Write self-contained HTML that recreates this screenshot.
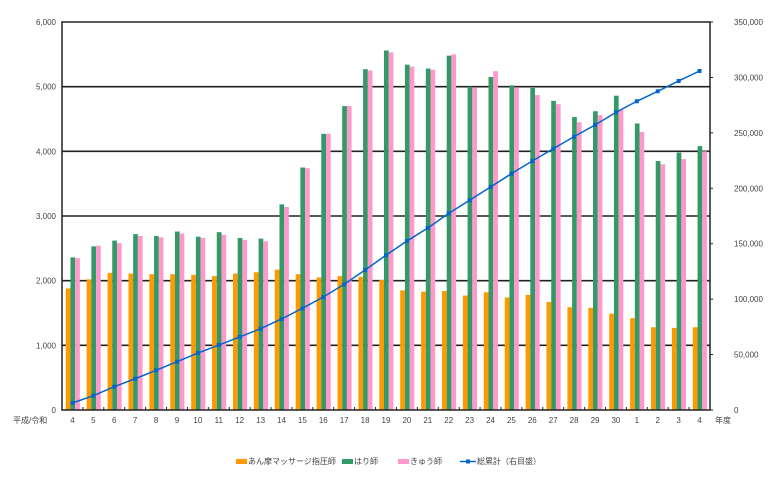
<!DOCTYPE html>
<html><head><meta charset="utf-8"><style>
body{margin:0;background:#fff;width:768px;height:476px;overflow:hidden}
svg text{font-family:"Liberation Sans","Noto Sans CJK JP",sans-serif;fill:#444}
</style></head><body>
<svg id="chart" width="768" height="476" xmlns="http://www.w3.org/2000/svg">
<g id="grid"></g>
<g id="bars"></g>
<g id="line"></g>
<g id="axes"></g>
<g id="legend" font-size="8">
 <g><rect x="236" y="459" width="11" height="5" fill="#ff9900"/><text x="248" y="464" font-size="8">あん摩マッサージ指圧師</text></g>
 <g><rect x="342" y="459" width="11" height="5" fill="#339966"/><text x="354" y="464" font-size="8">はり師</text></g>
 <g><rect x="398" y="459" width="11" height="5" fill="#ff99cc"/><text x="410" y="464" font-size="8">きゅう師</text></g>
 <g><line x1="460" y1="461.5" x2="476" y2="461.5" stroke="#0066cc" stroke-width="1.5"/><rect x="466" y="459.5" width="4" height="4" fill="#0066cc"/><text x="477" y="464" font-size="8">総累計（右目盛）</text></g>
</g>
</svg>
<script>
const categories=["4","5","6","7","8","9","10","11","12","13","14","15","16","17","18","19","20","21","22","23","24","25","26","27","28","29","30","1","2","3","4"];
const anma=[1880,2020,2120,2110,2100,2100,2090,2070,2110,2130,2170,2100,2050,2070,2060,2010,1850,1830,1840,1770,1820,1740,1780,1670,1590,1580,1490,1420,1280,1270,1280];
const hari=[2360,2530,2620,2720,2690,2760,2680,2750,2660,2650,3180,3750,4270,4700,5270,5560,5340,5280,5480,5000,5150,5020,4980,4780,4530,4620,4860,4430,3850,3980,4080];
const kyu=[2350,2540,2580,2690,2670,2730,2660,2710,2630,2610,3140,3740,4270,4700,5250,5530,5310,5260,5500,4990,5240,4990,4870,4730,4450,4560,4650,4300,3800,3880,4000];
const total=[6300,12900,21000,28200,35800,43600,51400,58600,65900,73300,82100,91700,101900,113400,126300,139600,152400,164200,177400,189200,201200,213200,224600,235700,246600,257100,268500,278500,287500,296800,305800];
const leftTicks=[0,1000,2000,3000,4000,5000,6000];
const rightTicks=[0,50000,100000,150000,200000,250000,300000,350000];
const NS="http://www.w3.org/2000/svg";
const X0=62,X1=710,Y0=410,Y1=22;
const step=(X1-X0)/categories.length;
const yL=v=>Y0-(v/6000)*(Y0-Y1);
const yR=v=>Y0-(v/350000)*(Y0-Y1);
const xc=i=>X0+step*(i+0.5);
function mk(tag,attrs,parent){const e=document.createElementNS(NS,tag);for(const k in attrs)e.setAttribute(k,attrs[k]);parent.appendChild(e);return e;}
const grid=document.getElementById('grid'),bars=document.getElementById('bars'),line=document.getElementById('line'),axes=document.getElementById('axes');
leftTicks.forEach(t=>{if(t>0&&t<6000){const l=mk('line',{x1:X0,x2:X1,y1:yL(t),y2:yL(t),stroke:'#222','stroke-width':1.6},grid);

}
const tx=mk('text',{x:X0-6,y:yL(t)+3,'text-anchor':'end','font-size':8},axes);tx.textContent=t.toLocaleString('en-US');

});
rightTicks.forEach(t=>{const tx=mk('text',{x:X1+24,y:yR(t)+3,'text-anchor':t===0?'start':'start','font-size':8},axes);tx.textContent=t.toLocaleString('en-US');


mk('line',{x1:X1,x2:X1+3,y1:yR(t),y2:yR(t),stroke:'#222'},axes);});
const bw=4.7;
categories.forEach((c,i)=>{const cx=xc(i);
const series=[[anma[i],'#ff9900',-6.7,'bar-anma'],[hari[i],'#339966',-2,'bar-hari'],[kyu[i],'#ff99cc',2.7,'bar-kyu']];
series.forEach(s=>{const r=mk('rect',{x:cx+s[2],y:yL(s[0]),width:bw,height:Y0-yL(s[0]),fill:s[1]},bars);

});
const tx=mk('text',{x:cx,y:Y0+13,'text-anchor':'middle','font-size':8},axes);tx.textContent=c;


mk('line',{x1:X0+step*i,x2:X0+step*i,y1:Y0,y2:Y0-3,stroke:'#222'},axes);});
let d=total.map((v,i)=>(i?'L':'M')+xc(i)+' '+yR(v)).join(' ');
const p=mk('path',{d:d,fill:'none',stroke:'#0066cc','stroke-width':1.5},line);


total.forEach((v,i)=>{const r=mk('rect',{x:xc(i)-2,y:yR(v)-2,width:4,height:4,fill:'#0066cc'},line);

});
const fr=mk('rect',{x:X0,y:Y1,width:X1-X0,height:Y0-Y1,fill:'none',stroke:'#222','stroke-width':1.5},axes);


const a=mk('text',{x:13,y:Y0+13,'font-size':8},axes);a.textContent='平成/令和';


const b=mk('text',{x:X1+5,y:Y0+13,'font-size':8},axes);b.textContent='年度';


</script>
</body></html>
